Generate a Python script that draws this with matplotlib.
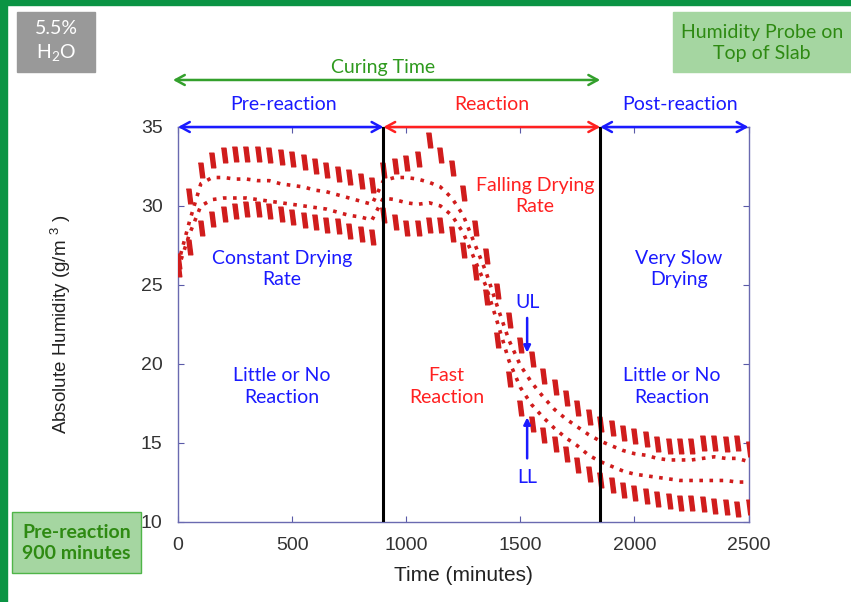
import numpy as np
import matplotlib
matplotlib.use("Agg")
import matplotlib.pyplot as plt
from matplotlib.patches import Rectangle

# time in minutes (one reading per ~50 min cycle)
t = [0, 50, 100, 150, 200, 250, 300, 350, 400, 450, 500, 550, 600, 650, 700, 750, 800, 850,
     900, 950, 1000, 1050, 1100, 1150, 1200, 1250, 1300, 1350, 1400, 1450, 1500, 1550, 1600, 1650,
     1700, 1750, 1800, 1850, 1900, 1950, 2000, 2050, 2100, 2150, 2200, 2250, 2300, 2350, 2400, 2450, 2500]

# upper limit band (UL)
ul = [26.5, 30.6, 32.3, 32.9, 33.2, 33.3, 33.3, 33.3, 33.2, 33.1, 33.0, 32.8, 32.5, 32.3, 32.0, 31.8, 31.6, 31.3,
      32.3, 32.5, 32.7, 33.0, 34.2, 33.2, 32.4, 30.8, 28.6, 26.8, 24.6, 22.8, 21.2, 20.3, 19.2, 18.5,
      17.8, 17.2, 16.6, 16.2, 15.9, 15.6, 15.4, 15.2, 14.9, 14.8, 14.8, 14.8, 15.0, 15.0, 14.9, 15.0, 14.6]

# lower limit band (LL)
ll = [26.0, 27.4, 28.6, 29.2, 29.5, 29.7, 29.8, 29.8, 29.7, 29.5, 29.3, 29.1, 29.0, 28.8, 28.7, 28.4, 28.2, 28.0,
      29.4, 29.0, 28.6, 28.6, 28.8, 28.8, 28.2, 27.2, 25.8, 24.2, 21.5, 19.0, 17.2, 16.2, 15.5, 14.9,
      14.3, 13.6, 13.0, 12.6, 12.3, 12.0, 11.8, 11.6, 11.4, 11.3, 11.2, 11.2, 11.1, 11.0, 10.9, 10.8, 10.9]

# two intermediate probe readings (thin dotted traces)
mid_a = [26.3, 29.0, 31.4, 31.8, 31.8, 31.7, 31.7, 31.6, 31.6, 31.4, 31.3, 31.2, 31.0, 30.9, 30.7, 30.5, 30.3, 30.1,
         31.6, 31.8, 31.8, 31.7, 31.5, 31.2, 30.5, 29.4, 27.6, 25.8, 23.6, 21.5, 19.9, 18.8, 17.9, 17.1,
         16.5, 16.0, 15.5, 15.1, 14.8, 14.5, 14.3, 14.2, 14.0, 13.9, 13.9, 13.9, 14.0, 14.1, 14.0, 14.0, 13.8]
mid_b = [26.0, 28.2, 30.0, 30.4, 30.5, 30.5, 30.5, 30.4, 30.3, 30.2, 30.1, 30.0, 29.9, 29.8, 29.6, 29.4, 29.3, 29.1,
         30.5, 30.4, 30.2, 30.1, 30.2, 30.0, 29.4, 28.3, 26.6, 24.9, 22.6, 20.2, 18.5, 17.4, 16.6, 15.9,
         15.3, 14.8, 14.2, 13.8, 13.5, 13.2, 13.0, 12.9, 12.8, 12.7, 12.6, 12.6, 12.6, 12.6, 12.6, 12.5, 12.5]

phase_bounds = [0, 900, 1850, 2500]

RED = '#d01c1c'
BLUE = '#1a1aff'
TXTRED = '#ff2020'
GREEN = '#2e9a1e'

plt.rcParams['font.family'] = ['Lato', 'DejaVu Sans']
W, H = 851, 602
fig = plt.figure(figsize=(W / 100, H / 100), dpi=100)

def px(x0, y0, x1, y1):
    return (x0 / W, 1 - y1 / H, (x1 - x0) / W, (y1 - y0) / H)

ax = fig.add_axes(px(178, 127, 748.5, 521.5))
ax.set_xlim(0, 2500)
ax.set_ylim(10, 35)

# slanted block marker for the daily clumps
streak = [(-0.45, 1), (0.2, 1), (0.45, -1), (-0.2, -1)]
ax.plot(t, ul, ls='none', marker=streak, ms=10.5, color=RED, mec=RED, zorder=3)
ax.plot(t, ll, ls='none', marker=streak, ms=10.5, color=RED, mec=RED, zorder=3)
ax.plot(t, mid_a, ls=(0, (1, 1.8)), lw=2.6, color=RED, zorder=3)
ax.plot(t, mid_b, ls=(0, (1, 1.8)), lw=2.6, color=RED, zorder=3)

for xb in phase_bounds[1:3]:
    ax.axvline(xb, color='black', lw=2.2, zorder=4)

ax.set_xticks([0, 500, 1000, 1500, 2000, 2500])
ax.set_yticks([10, 15, 20, 25, 30, 35])
ax.tick_params(direction='in', length=4, color='#5a5aa8', top=True, right=True,
               labelsize=14, labelcolor='#333333', labelfontfamily='Liberation Sans')
ax.tick_params(axis='x', pad=11)
ax.tick_params(axis='y', pad=11)
for s in ax.spines.values():
    s.set_color('#6a6ab0')
    s.set_linewidth(1.0)

ax.set_xlabel('Time (minutes)', fontsize=15, family='Liberation Sans', color='#222222', labelpad=9)
ax.set_ylabel('Absolute Humidity (g/m $^{\\mathregular{3}}$ )', fontsize=13.5, family='Liberation Sans',
              color='#222222', labelpad=49)

# phase arrows along the top
arrow_cols = [BLUE, TXTRED, BLUE]
names = ['Pre-reaction', 'Reaction', 'Post-reaction']
name_x = [463, 1377, 2198]
astyle = '<->,head_length=0.55,head_width=0.3'
for i in range(3):
    ax.annotate('', xy=(phase_bounds[i], 35), xytext=(phase_bounds[i + 1], 35),
                arrowprops=dict(arrowstyle=astyle, color=arrow_cols[i], lw=1.8, mutation_scale=12,
                                shrinkA=0, shrinkB=0), annotation_clip=False, zorder=5)
    ax.text(name_x[i], 36.4, names[i], color=arrow_cols[i], fontsize=14, ha='center', va='center',
            clip_on=False)

ax.annotate('', xy=(-22, 37.98), xytext=(1850, 37.98),
            arrowprops=dict(arrowstyle=astyle, color='#33a02c', lw=1.8, mutation_scale=12,
                            shrinkA=0, shrinkB=0), annotation_clip=False)
ax.text(900, 38.8, 'Curing Time', color=GREEN, fontsize=14, ha='center', va='center', clip_on=False)

kw = dict(fontsize=14, ha='center', va='center', linespacing=1.3)
ax.text(455, 26.0, 'Constant Drying\nRate', color=BLUE, **kw)
ax.text(455, 18.56, 'Little or No\nReaction', color=BLUE, **kw)
ax.text(1565, 30.63, 'Falling Drying\nRate', color=TXTRED, **kw)
ax.text(1176, 18.56, 'Fast\nReaction', color=TXTRED, **kw)
ax.text(2194, 26.0, 'Very Slow\nDrying', color=BLUE, **kw)
ax.text(2163, 18.56, 'Little or No\nReaction', color=BLUE, **kw)

ax.text(1530, 23.85, 'UL', color=BLUE, fontsize=14, ha='center', va='center')
ax.annotate('', xy=(1530, 20.7), xytext=(1530, 22.9),
            arrowprops=dict(arrowstyle='-|>', color=BLUE, lw=1.8, mutation_scale=10, shrinkA=0, shrinkB=0))
ax.text(1530, 12.82, 'LL', color=BLUE, fontsize=14, ha='center', va='center')
ax.annotate('', xy=(1530, 16.6), xytext=(1530, 14.0),
            arrowprops=dict(arrowstyle='-|>', color=BLUE, lw=1.8, mutation_scale=10, shrinkA=0, shrinkB=0))

# slide decorations
fig.patches.append(Rectangle((0, 0), 7 / W, 1, transform=fig.transFigure, color='#0b9444', zorder=0))
fig.patches.append(Rectangle((0, 1 - 5 / H), 1, 5 / H, transform=fig.transFigure, color='#0b9444', zorder=0))

b = px(17, 12, 95, 72)
fig.patches.append(Rectangle(b[:2], b[2], b[3], transform=fig.transFigure, color='#999999'))
fig.text((17 + 95) / 2 / W, 1 - 42 / H, '5.5%\nH$_{\\mathregular{2}}$O', color='white', fontsize=14,
         ha='center', va='center', linespacing=1.35)

b = px(673, 12, 852, 72)
fig.patches.append(Rectangle(b[:2], b[2], b[3], transform=fig.transFigure, color='#a5d6a1'))
fig.text((673 + 851) / 2 / W, 1 - 43 / H, 'Humidity Probe on\nTop of Slab', color='#2e8a12', fontsize=14,
         ha='center', va='center', linespacing=1.3)

b = px(12, 512, 141, 573)
fig.patches.append(Rectangle(b[:2], b[2], b[3], transform=fig.transFigure, facecolor='#a5d6a1',
                             edgecolor='#4fb548', lw=1))
fig.text((12 + 141) / 2 / W, 1 - 543 / H, 'Pre-reaction\n900 minutes', color='#2e8a12', fontsize=14,
         fontweight='bold', ha='center', va='center', linespacing=1.3)

fig.savefig('out.png', dpi=100)
